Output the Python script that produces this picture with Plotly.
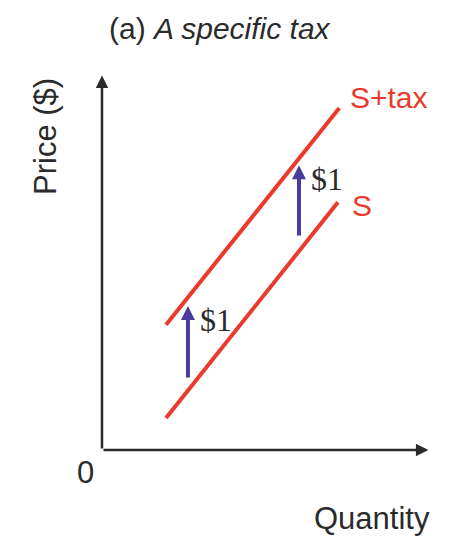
import plotly.graph_objects as go

# supply curves (quantity, price) in arbitrary chart units
s_q = [1.84, 6.78]
s_p = [0.82, 6.35]
stax_q = [1.84, 6.82]
stax_p = [3.21, 8.77]

# $1 tax arrows: quantity, start price, end price
arrow_q = [2.47, 5.66]
arrow_from = [1.82, 5.46]
arrow_to = [3.69, 7.30]
arrow_labels = ["$1", "$1"]

RED = "#ea3a2c"
PURPLE = "#4a3c9c"
INK = "#2b2b2b"
SANS = "Liberation Sans, Arial, sans-serif"
SERIF = "Liberation Serif, Times New Roman, serif"

fig = go.Figure()

fig.add_trace(go.Scatter(x=s_q, y=s_p, mode="lines",
                         line=dict(color=RED, width=4), hoverinfo="skip"))
fig.add_trace(go.Scatter(x=stax_q, y=stax_p, mode="lines",
                         line=dict(color=RED, width=4), hoverinfo="skip"))

# axes drawn as arrows
axis_arrow = dict(xref="x", yref="y", axref="x", ayref="y", text="",
                  showarrow=True, arrowhead=2, arrowsize=1.0,
                  arrowwidth=2.5, arrowcolor=INK)
fig.add_annotation(x=0, y=9.6, ax=0, ay=0, **axis_arrow)
fig.add_annotation(x=9.38, y=0, ax=0, ay=0, **axis_arrow)

# tax arrows and their labels
for q, p0, p1, lab in zip(arrow_q, arrow_from, arrow_to, arrow_labels):
    fig.add_annotation(x=q, y=p1, ax=q, ay=p0, xref="x", yref="y",
                       axref="x", ayref="y", text="", showarrow=True,
                       arrowhead=2, arrowsize=0.7, arrowwidth=4,
                       arrowcolor=PURPLE)
    fig.add_annotation(x=q + 0.28, y=(p1 - 0.36), text=lab, showarrow=False,
                       xanchor="left", yanchor="middle",
                       font=dict(family=SERIF, size=32, color=INK))

# curve labels
fig.add_annotation(x=stax_q[1] + 0.24, y=stax_p[1] + 0.27, text="S+tax",
                   showarrow=False, xanchor="left", yanchor="middle",
                   font=dict(family=SANS, size=30, color=RED))
fig.add_annotation(x=s_q[1] + 0.34, y=s_p[1] - 0.07, text="S",
                   showarrow=False, xanchor="left", yanchor="middle",
                   font=dict(family=SANS, size=30, color=RED))

# texts outside the plotting area, in paper units (348 x 390 px area)
outside = dict(xref="paper", yref="paper", showarrow=False,
               xanchor="center", yanchor="middle")
fig.add_annotation(x=-17 / 348, y=-22 / 390, text="0",
                   font=dict(family=SANS, size=31, color=INK), **outside)
fig.add_annotation(x=270 / 348, y=-68 / 390, text="Quantity",
                   font=dict(family=SANS, size=31, color=INK), **outside)
fig.add_annotation(x=-57 / 348, y=313 / 390, text="Price ($)",
                   textangle=-90,
                   font=dict(family=SANS, size=31, color=INK), **outside)
fig.add_annotation(x=118 / 348, y=422 / 390, text="(a) <i>A specific tax</i>",
                   font=dict(family=SANS, size=30, color=INK), **outside)

fig.update_xaxes(range=[0, 10], visible=False, fixedrange=True)
fig.update_yaxes(range=[0, 10], visible=False, fixedrange=True)
fig.update_layout(
    width=474, height=546,
    # page body adds 8px, so shift the plotting area back
    margin=dict(l=94, r=32, t=52, b=104),
    showlegend=False,
    plot_bgcolor="white", paper_bgcolor="white",
)

fig.write_html("out.html")
